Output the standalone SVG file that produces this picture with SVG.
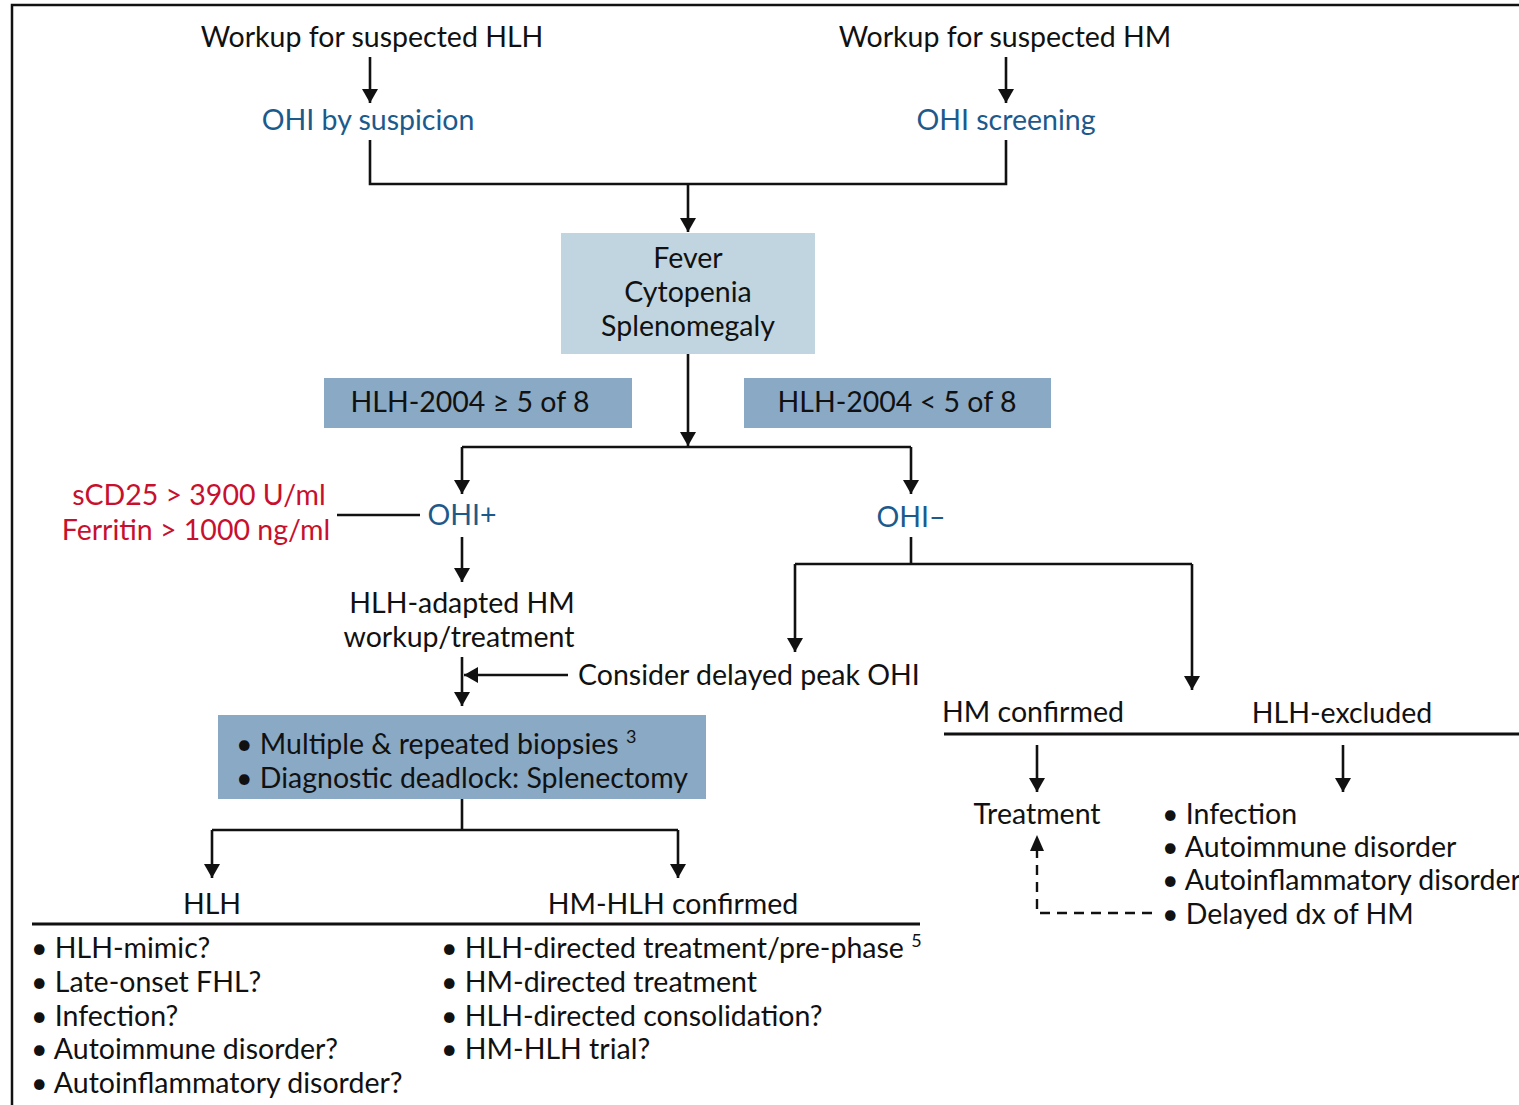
<svg xmlns="http://www.w3.org/2000/svg" width="1519" height="1105" viewBox="0 0 1519 1105">
<defs>
<style>
text{font-family:Lato,"Open Sans","Liberation Sans",sans-serif;font-size:28.5px;fill:#111}
.c{text-anchor:middle}
.b{fill:#1d5a8c}
.r{fill:#c8102e}
.ln{fill:none;stroke:#111;stroke-width:2.6}
.dash{fill:none;stroke:#111;stroke-width:2.4;stroke-dasharray:10 7}
.sup{font-size:18px}
</style>
<marker id="ah" viewBox="0 0 14 16" refX="14" refY="8" markerWidth="14" markerHeight="16" markerUnits="userSpaceOnUse" orient="auto">
<path d="M0,0 L14,8 L0,16 Z" fill="#111"/>
</marker>
</defs>
<rect width="1519" height="1105" fill="#fff"/>
<path d="M12,1105 V5 H1519" fill="none" stroke="#111" stroke-width="2.5"/>

<g id="connectors">
<path class="ln" d="M370,57 V103" marker-end="url(#ah)"/>
<path class="ln" d="M1006,57 V103" marker-end="url(#ah)"/>
<path class="ln" d="M370,140 V184 H1006 V140"/>
<path class="ln" d="M688,184 V232" marker-end="url(#ah)"/>
<path class="ln" d="M688,354 V446" marker-end="url(#ah)"/>
<path class="ln" d="M462,447 H911"/>
<path class="ln" d="M462,447 V494" marker-end="url(#ah)"/>
<path class="ln" d="M911,447 V494" marker-end="url(#ah)"/>
<path class="ln" d="M337,515 H420"/>
<path class="ln" d="M462,537 V582" marker-end="url(#ah)"/>
<path class="ln" d="M462,657 V706" marker-end="url(#ah)"/>
<path class="ln" d="M568,675 H464" marker-end="url(#ah)"/>
<path class="ln" d="M462,799 V830 M212,830 H678"/>
<path class="ln" d="M212,830 V878" marker-end="url(#ah)"/>
<path class="ln" d="M678,830 V878" marker-end="url(#ah)"/>
<path class="ln" d="M911,537 V564 M795,564 H1192"/>
<path class="ln" d="M795,564 V652" marker-end="url(#ah)"/>
<path class="ln" d="M1192,564 V690" marker-end="url(#ah)"/>
<path class="ln" d="M1037,745 V792" marker-end="url(#ah)"/>
<path class="ln" d="M1343,745 V792" marker-end="url(#ah)"/>
<path class="dash" d="M1152,913 H1037 V850"/>
<path d="M1030,851 L1037,835 L1044,851 Z" fill="#111"/>
<path d="M32,924 H920" stroke="#111" stroke-width="3"/>
<path d="M944,734 H1519" stroke="#111" stroke-width="3"/>
</g>

<g id="workup-hlh"><text class="c" x="372" y="47">Workup for suspected HLH</text></g>
<g id="workup-hm"><text class="c" x="1005" y="47">Workup for suspected HM</text></g>
<g id="ohi-suspicion"><text class="c b" x="368" y="130">OHI by suspicion</text></g>
<g id="ohi-screening"><text class="c b" x="1006" y="130">OHI screening</text></g>

<g id="symptoms">
<rect x="561" y="233" width="254" height="121" fill="#c0d5df"/>
<text class="c" x="688" y="268">Fever</text>
<text class="c" x="688" y="302">Cytopenia</text>
<text class="c" x="688" y="336">Splenomegaly</text>
</g>

<g id="hlh2004-ge">
<rect x="324" y="378" width="308" height="50" fill="#8aa9c4"/>
<text class="c" x="470" y="412">HLH-2004 ≥ 5 of 8</text>
</g>
<g id="hlh2004-lt">
<rect x="744" y="378" width="307" height="50" fill="#8aa9c4"/>
<text class="c" x="897" y="412">HLH-2004 &lt; 5 of 8</text>
</g>

<g id="thresholds">
<text class="c r" x="199" y="505">sCD25 &gt; 3900 U/ml</text>
<text class="c r" x="196" y="540">Ferritin &gt; 1000 ng/ml</text>
</g>
<g id="ohi-pos"><text class="c b" x="462" y="525">OHI+</text></g>
<g id="ohi-neg"><text class="c b" x="911" y="527">OHI–</text></g>

<g id="hlh-adapted">
<text class="c" x="462" y="613">HLH-adapted HM</text>
<text class="c" x="459" y="647">workup/treatment</text>
</g>
<g id="delayed-peak"><text x="578" y="685">Consider delayed peak OHI</text></g>

<g id="biopsies">
<rect x="218" y="715" width="488" height="84" fill="#8aa9c4"/>
<text x="236" y="754">• Multiple &amp; repeated biopsies <tspan class="sup" dy="-11">3</tspan></text>
<text x="236" y="788">• Diagnostic deadlock: Splenectomy</text>
</g>

<g id="hlh">
<text class="c" x="212" y="914">HLH</text>
<text x="31" y="958">• HLH-mimic?</text>
<text x="31" y="992">• Late-onset FHL?</text>
<text x="31" y="1026">• Infection?</text>
<text x="31" y="1059">• Autoimmune disorder?</text>
<text x="31" y="1093">• Autoinflammatory disorder?</text>
</g>

<g id="hm-hlh">
<text class="c" x="673" y="914">HM-HLH confirmed</text>
<text x="441" y="958">• HLH-directed treatment/pre-phase <tspan class="sup" dy="-11">5</tspan></text>
<text x="441" y="992">• HM-directed treatment</text>
<text x="441" y="1026">• HLH-directed consolidation?</text>
<text x="441" y="1059">• HM-HLH trial?</text>
</g>

<g id="hm-confirmed">
<text class="c" x="1033" y="722">HM confirmed</text>
<text class="c" x="1037" y="824">Treatment</text>
</g>

<g id="hlh-excluded">
<text class="c" x="1342" y="723">HLH-excluded</text>
<text x="1162" y="824">• Infection</text>
<text x="1162" y="857">• Autoimmune disorder</text>
<text x="1162" y="890">• Autoinflammatory disorder</text>
<text x="1162" y="924">• Delayed dx of HM</text>
</g>
</svg>
